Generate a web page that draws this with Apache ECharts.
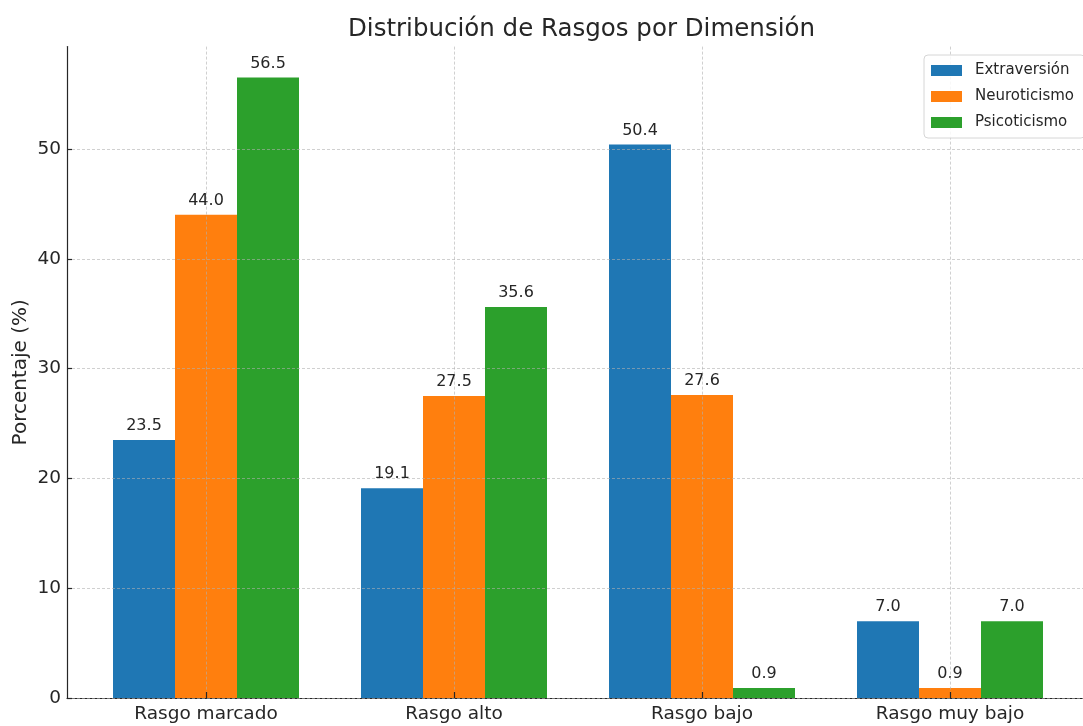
<!DOCTYPE html>
<html>
<head>
<meta charset="utf-8">
<title>Distribución de Rasgos por Dimensión</title>
<script src="https://cdn.jsdelivr.net/npm/echarts/dist/echarts.min.js"></script>
<style>
  html, body { margin: 0; padding: 0; background: #fff; }
  #chart { width: 1083px; height: 726px; }
</style>
</head>
<body>
<div id="chart"></div>
<script>
// datos
const categories = ['Rasgo marcado', 'Rasgo alto', 'Rasgo bajo', 'Rasgo muy bajo']
const extraversion = [23.5, 19.1, 50.4, 7.0]
const neuroticismo = [44.0, 27.5, 27.6, 0.9]
const psicoticismo = [56.5, 35.6, 0.9, 7.0]
const yTicks = [0, 10, 20, 30, 40, 50]

const font = 'DejaVu Sans'
const textColor = '#262626'
const spine = { color: '#262626', width: 1.2 }
const gridLine = { color: 'rgba(176,176,176,0.75)', width: 0.8, type: [3, 2] }

const chart = echarts.init(document.getElementById('chart'))

const makeSeries = (name, data, color) => ({
  name: name,
  type: 'bar',
  xAxisIndex: 0,
  yAxisIndex: 0,
  data: data,
  barGap: '0%',
  barCategoryGap: '25%',
  itemStyle: { color: color },
  label: {
    show: true,
    position: 'top',
    distance: 6,
    fontFamily: font,
    fontSize: 16,
    color: textColor,
    formatter: (p) => p.value.toFixed(1)
  }
})

const option = {
  animation: false,
  backgroundColor: '#fff',
  textStyle: { fontFamily: font },
  title: {
    text: 'Distribución de Rasgos por Dimensión',
    left: 343,
    top: 12,
    textStyle: { fontFamily: font, fontSize: 24.5, fontWeight: 'normal', color: textColor }
  },
  legend: {
    orient: 'vertical',
    left: 924,
    top: 55,
    padding: [8, 11, 8, 7],
    itemWidth: 31,
    itemHeight: 11,
    itemGap: 11,
    icon: 'rect',
    backgroundColor: 'rgba(255,255,255,0.85)',
    borderColor: '#d6d6d6',
    borderWidth: 1,
    borderRadius: 4,
    textStyle: { fontFamily: font, fontSize: 15, color: textColor, padding: [0, 0, 0, 8] },
    data: ['Extraversión', 'Neuroticismo', 'Psicoticismo']
  },
  grid: [
    // area of bars (ylim = max * 1.05, like matplotlib)
    { left: 82, right: 9, top: 46.6, bottom: 28, outerBoundsMode: 'none', containLabel: false },
    // area for y ticks / horizontal grid and the bottom spine
    { left: 67, right: -7, top: 149, bottom: 28, outerBoundsMode: 'none', containLabel: false }
  ],
  xAxis: [
    {
      type: 'category',
      gridIndex: 0,
      data: categories,
      z: 3,
      axisLine: { show: false },
      axisTick: { show: true, inside: true, length: 6, alignWithLabel: true, lineStyle: spine },
      axisLabel: { fontFamily: font, fontSize: 18.5, color: textColor, margin: 7 },
      splitLine: { show: true, alignWithLabel: true, lineStyle: gridLine }
    },
    {
      type: 'value',
      gridIndex: 1,
      min: 0,
      max: 1,
      axisLine: { show: true, lineStyle: spine },
      axisTick: { show: false },
      axisLabel: { show: false },
      splitLine: { show: false }
    }
  ],
  yAxis: [
    {
      type: 'value',
      gridIndex: 0,
      min: 0,
      max: Math.max(...psicoticismo, ...extraversion, ...neuroticismo) * 1.05,
      offset: 15,
      name: 'Porcentaje (%)',
      nameLocation: 'middle',
      nameGap: 36,
      nameTextStyle: { fontFamily: font, fontSize: 20, color: textColor },
      axisLine: { show: true, lineStyle: spine },
      axisTick: { show: false },
      axisLabel: { show: false },
      splitLine: { show: false }
    },
    {
      type: 'value',
      gridIndex: 1,
      min: yTicks[0],
      max: yTicks[yTicks.length - 1],
      interval: 10,
      z: 3,
      axisLine: { show: false },
      axisTick: { show: true, inside: true, length: 5, lineStyle: spine },
      axisLabel: { fontFamily: font, fontSize: 18.5, color: textColor, margin: 6 },
      splitLine: { show: true, lineStyle: gridLine }
    }
  ],
  series: [
    makeSeries('Extraversión', extraversion, '#1f77b4'),
    makeSeries('Neuroticismo', neuroticismo, '#ff7f0e'),
    makeSeries('Psicoticismo', psicoticismo, '#2ca02c')
  ]
}

chart.setOption(option)
</script>
</body>
</html>
